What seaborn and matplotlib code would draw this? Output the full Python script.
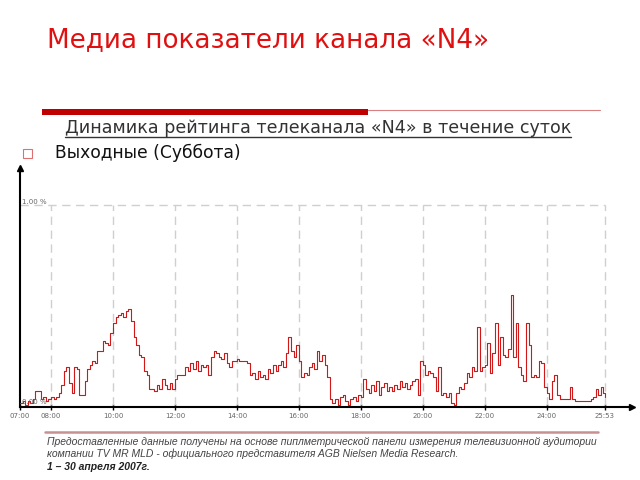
import matplotlib
matplotlib.use("Agg")
import matplotlib.pyplot as plt
from matplotlib.lines import Line2D
from matplotlib.patches import Rectangle
import numpy as np
import seaborn as sns

# ─── Data (rating, %, every 5 minutes from 07:00 to 25:53) ───────────────────

h07 = [0.01, 0.02, 0.00, 0.02, 0.01, 0.03, 0.07, 0.07, 0.03, 0.04, 0.02, 0.03]
h08 = [0.04, 0.03, 0.04, 0.06, 0.10, 0.17, 0.19, 0.11, 0.06, 0.19, 0.18, 0.05]
h09 = [0.05, 0.12, 0.18, 0.20, 0.22, 0.21, 0.27, 0.27, 0.32, 0.31, 0.30, 0.36]
h10 = [0.41, 0.44, 0.45, 0.46, 0.44, 0.47, 0.48, 0.42, 0.34, 0.30, 0.25, 0.24]
h11 = [0.17, 0.15, 0.08, 0.08, 0.07, 0.10, 0.08, 0.13, 0.10, 0.08, 0.11, 0.08]
h12 = [0.13, 0.15, 0.15, 0.15, 0.19, 0.17, 0.21, 0.18, 0.22, 0.17, 0.20, 0.19]
h13 = [0.20, 0.15, 0.24, 0.27, 0.26, 0.24, 0.23, 0.26, 0.21, 0.19, 0.22, 0.22]
h14 = [0.23, 0.22, 0.22, 0.22, 0.21, 0.15, 0.16, 0.13, 0.17, 0.14, 0.15, 0.13]
h15 = [0.18, 0.16, 0.20, 0.17, 0.20, 0.22, 0.19, 0.26, 0.34, 0.27, 0.24, 0.30]
h16 = [0.22, 0.14, 0.16, 0.15, 0.19, 0.21, 0.18, 0.27, 0.22, 0.25, 0.20, 0.14]
h17 = [0.03, 0.01, 0.03, 0.00, 0.04, 0.05, 0.02, 0.00, 0.03, 0.04, 0.02, 0.05]
h18 = [0.04, 0.13, 0.08, 0.06, 0.10, 0.07, 0.12, 0.05, 0.09, 0.11, 0.07, 0.09]
h19 = [0.07, 0.10, 0.08, 0.12, 0.09, 0.11, 0.08, 0.10, 0.12, 0.13, 0.05, 0.22]
h20 = [0.20, 0.15, 0.17, 0.16, 0.14, 0.07, 0.19, 0.05, 0.06, 0.04, 0.06, 0.01]
h21 = [0.00, 0.06, 0.09, 0.08, 0.11, 0.16, 0.14, 0.19, 0.17, 0.39, 0.17, 0.19]
h22 = [0.20, 0.31, 0.16, 0.26, 0.41, 0.20, 0.34, 0.25, 0.24, 0.28, 0.55, 0.24]
h23 = [0.41, 0.19, 0.15, 0.12, 0.41, 0.30, 0.14, 0.15, 0.14, 0.22, 0.21, 0.09]
h24 = [0.06, 0.03, 0.12, 0.15, 0.05, 0.03, 0.03, 0.03, 0.03, 0.09, 0.03, 0.02]
h25 = [0.02, 0.02, 0.02, 0.02, 0.02, 0.03, 0.04, 0.08, 0.05, 0.09, 0.06, 0.04]  # last = 25:53

rating = h07 + h08 + h09 + h10 + h11 + h12 + h13 + h14 + h15 + h16 + h17 + \
    h18 + h19 + h20 + h21 + h22 + h23 + h24 + h25
minutes = list(range(0, 1131, 5)) + [1133]
hours = [7 + m / 60 for m in minutes]

tick_hours = [7, 8, 10, 12, 14, 16, 18, 20, 22, 24, 25 + 53 / 60]
tick_labels = ["07:00", "08:00", "10:00", "12:00", "14:00", "16:00",
               "18:00", "20:00", "22:00", "24:00", "25:53"]

TITLE = "Медиа показатели канала «N4»"
SUBTITLE = "Динамика рейтинга телеканала «N4» в течение суток"
BULLET = "Выходные (Суббота)"
FOOTER1 = ("Предоставленные данные получены на основе пиплметрической панели "
           "измерения телевизионной аудитории")
FOOTER2 = ("компании TV MR MLD - официального представителя "
           "AGB Nielsen Media Research.")
FOOTER3 = "1 – 30 апреля 2007г."

# ─── Figure ──────────────────────────────────────────────────────────────────

sns.set_style("white")
plt.rcParams["font.family"] = ["DejaVu Sans"]

W, H = 640, 480
fig = plt.figure(figsize=(6.4, 4.8), dpi=100)


def fx(px):
    return px / W


def fy(py):
    return 1 - py / H


# header
fig.text(fx(47), fy(40), TITLE, fontsize=18.9, color="#e01010", va="center")
fig.add_artist(Rectangle((fx(42), fy(115)), fx(368) - fx(42), 6 / H,
                         transform=fig.transFigure, color="#c00000", lw=0))
fig.add_artist(Line2D([fx(368), fx(600)], [fy(110), fy(110)],
                      transform=fig.transFigure, color="#d98080", lw=0.8))
sub = fig.text(fx(65), fy(128), SUBTITLE, fontsize=12.6, color="#333333",
               va="center")
fig.add_artist(Rectangle((fx(22.5), fy(158)), 9 / W, 9 / H, fill=False,
                         edgecolor="#e07070", lw=0.8,
                         transform=fig.transFigure))
fig.text(fx(55), fy(153), BULLET, fontsize=12.3, color="#111111", va="center")

# underline of the subtitle
fig.canvas.draw()
bb = sub.get_window_extent().transformed(fig.transFigure.inverted())
fig.add_artist(Line2D([bb.x0, bb.x1], [fy(137), fy(137)],
                      transform=fig.transFigure, color="#333333", lw=1))

# chart
ax = fig.add_axes([fx(20), fy(407), fx(632) - fx(20), (407 - 168) / H])
px_per_hour = 585 / (tick_hours[-1] - 7)
ax.set_xlim(7, 7 + 612 / px_per_hour)
ax.set_ylim(-0.01, (405 - 168) / 200)

ax.vlines(tick_hours[1:], 0, 1.0, colors="#cfcfcf", linestyles=(0, (6, 4)),
          lw=1, zorder=1)
ax.hlines(1.0, 7, tick_hours[-1], colors="#cfcfcf", linestyles=(0, (6, 4)),
          lw=1, zorder=1)

sns.lineplot(x=hours, y=rating, ax=ax, estimator=None, color="#d01818",
             lw=0.8, drawstyle="steps-post", zorder=3)

for s in ["top", "right"]:
    ax.spines[s].set_visible(False)
for s in ["left", "bottom"]:
    ax.spines[s].set_color("black")
    ax.spines[s].set_linewidth(1.5)

ax.plot([1], [0], marker=">", color="black", markersize=5,
        transform=ax.transAxes, clip_on=False)
ax.plot([0], [1], marker="^", color="black", markersize=5,
        transform=ax.transAxes, clip_on=False)

ax.set_xticks(tick_hours)
ax.set_xticklabels(tick_labels)
ax.tick_params(axis="x", direction="inout", length=5, width=1, color="black",
               labelsize=5, labelcolor="#666666", pad=2, bottom=True)
ax.set_yticks([])
ax.text(7.05, 1.0, "1.00 %", fontsize=5, color="#666666", va="bottom")
ax.text(7.05, 0.0, "0.00 %", fontsize=5, color="#666666", va="bottom")
ax.set_xlabel("")
ax.set_ylabel("")

# footer
fig.add_artist(Line2D([fx(45), fx(598)], [fy(432), fy(432)],
                      transform=fig.transFigure, color="#c89090", lw=1.8))
foot_font = ["Liberation Sans", "DejaVu Sans"]
fig.text(fx(47), fy(442), FOOTER1, fontsize=7.5, style="italic",
         color="#444444", va="center", family=foot_font)
fig.text(fx(47), fy(454), FOOTER2, fontsize=7.5, style="italic",
         color="#444444", va="center", family=foot_font)
fig.text(fx(47), fy(467), FOOTER3, fontsize=7.5, style="italic",
         weight="bold", color="#222222", va="center", family=foot_font)

fig.savefig("out.png", dpi=100)
plt.close(fig)
